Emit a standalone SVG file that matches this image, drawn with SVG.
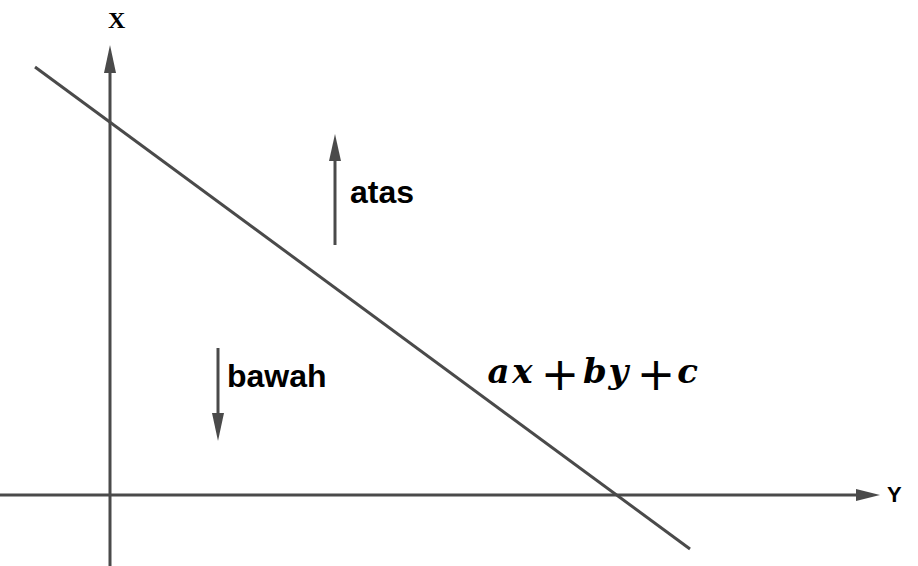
<svg xmlns="http://www.w3.org/2000/svg" width="918" height="566" viewBox="0 0 918 566">
<style>
.ln{stroke:#4a4a4a;stroke-width:3;fill:none}
.hd{fill:#4a4a4a}
.lbl{font-family:"Liberation Sans",Arial,sans-serif;font-weight:bold;font-size:32px;fill:#000}
.m{font-family:"DejaVu Serif",serif;font-size:34px;font-style:italic;font-weight:bold;fill:#000;text-anchor:middle}
.op{font-family:"DejaVu Sans",sans-serif;font-size:46px;fill:#000;text-anchor:middle}
</style>
<rect width="918" height="566" fill="#fff"/>
<g id="connectors">
<line class="ln" x1="110" y1="566" x2="110" y2="72"/>
<polygon class="hd" points="110,45 104,73 116,73"/>
<line class="ln" x1="0" y1="495" x2="857" y2="495"/>
<polygon class="hd" points="880,495 856,489 856,501"/>
<line class="ln" x1="35" y1="67" x2="690" y2="549"/>
<line class="ln" x1="335" y1="245" x2="335" y2="158"/>
<polygon class="hd" points="335,134 329,161 341,161"/>
<line class="ln" x1="218" y1="348" x2="218" y2="415"/>
<polygon class="hd" points="218,441 212,413 224,413"/>
</g>
<g id="label-x"><text x="108" y="28" font-family="Liberation Serif,serif" font-size="24" font-weight="bold">X</text></g>
<g id="label-y"><text x="887" y="502" font-family="Liberation Sans,Arial,sans-serif" font-size="22" font-weight="bold">Y</text></g>
<g id="atas"><text class="lbl" x="350" y="203">atas</text></g>
<g id="bawah"><text class="lbl" x="227" y="387">bawah</text></g>
<g id="equation">
<text class="m" x="498.5" y="383">a</text>
<text class="m" x="522.5" y="383">x</text>
<text class="op" x="560" y="390">+</text>
<text class="m" x="595" y="383">b</text>
<text class="m" x="618.5" y="383">y</text>
<text class="op" x="656" y="390">+</text>
<text class="m" x="687.5" y="383">c</text>
</g>
</svg>
